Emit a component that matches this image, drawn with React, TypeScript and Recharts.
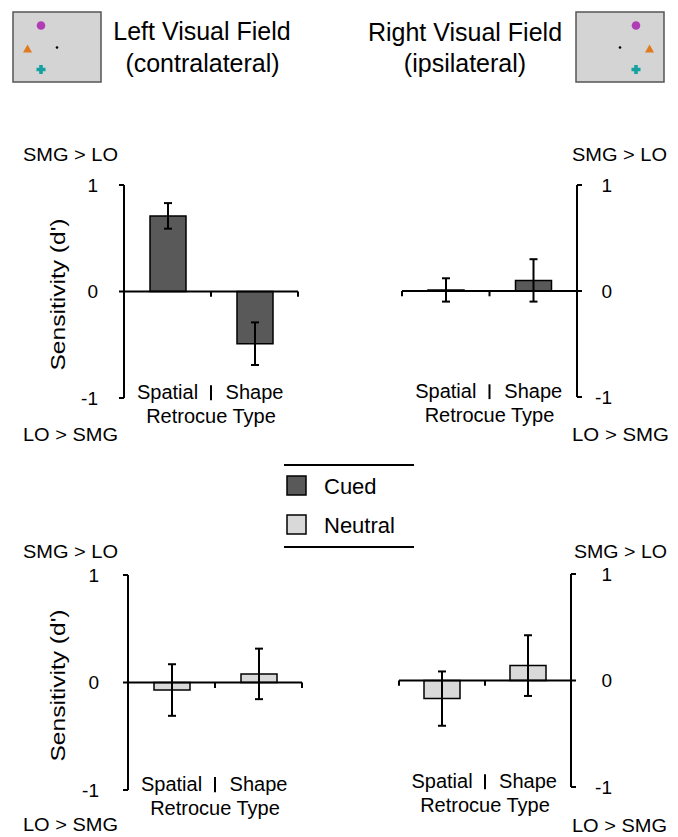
import { BarChart, Bar, XAxis, YAxis, ErrorBar, ReferenceLine } from 'recharts';

const FONT = '"Liberation Sans", Arial, sans-serif';

const CATEGORIES = ['Spatial', 'Shape'];
const Y_TICKS = [-1, 0, 1];

// Cued retrocue, d' difference (SMG - LO)
const CUED_LEFT = [0.71, -0.49];
const CUED_LEFT_ERR = [0.12, 0.2];
const CUED_RIGHT = [0.01, 0.1];
const CUED_RIGHT_ERR = [0.11, 0.2];

// Neutral retrocue
const NEUTRAL_LEFT = [-0.07, 0.08];
const NEUTRAL_LEFT_ERR = [0.24, 0.235];
const NEUTRAL_RIGHT = [-0.17, 0.14];
const NEUTRAL_RIGHT_ERR = [0.255, 0.285];

const CUED_COLOR = '#595959';
const NEUTRAL_COLOR = '#d9d9d9';

type PanelProps = {
  values: number[];
  errors: number[];
  fill: string;
  side: 'left' | 'right';
  left: number;
  top: number;
  width: number;
  height: number;
  plotLeft: number;
  plotRight: number;
  plotTop: number;
  plotBottom: number;
  tickShift: number;
};

const YTick = (props: any) => {
  const { x, y, payload, shift } = props;
  return (
    <text x={x + shift} y={y} textAnchor="end" dominantBaseline="central" fontSize={19} fontFamily={FONT} fill="#000" stroke="none">
      {payload.value}
    </text>
  );
};

const CatTick = (props: any) => {
  const { x, y, payload } = props;
  return (
    <text x={x} y={y - 6} textAnchor="middle" dominantBaseline="central" fontSize={20} fontFamily={FONT} fill="#000" stroke="none">
      {payload.value}
    </text>
  );
};

const Panel = (p: PanelProps) => {
  const data = CATEGORIES.map((name, i) => ({ name, value: p.values[i], err: p.errors[i], pos: i + 0.5 }));
  const isLeft = p.side === 'left';
  const margin = isLeft
    ? { top: p.plotTop, left: 0, right: p.width - p.plotRight, bottom: 0 }
    : { top: p.plotTop, left: p.plotLeft, right: 0, bottom: 0 };
  const yWidth = isLeft ? p.plotLeft : p.width - p.plotRight;

  return (
    <div style={{ position: 'absolute', left: p.left, top: p.top }}>
      <BarChart width={p.width} height={p.height} data={data} margin={margin} barSize={36}>
        <XAxis
          dataKey="name"
          axisLine={false}
          tickLine={false}
          tickSize={0}
          tickMargin={0}
          height={p.height - p.plotBottom}
          tick={<CatTick />}
          interval={0}
          label={{
            content: (lp: any) => {
              const vb = lp.viewBox;
              return (
                <text x={vb.x + vb.width / 2} y={vb.y + 18} textAnchor="middle" dominantBaseline="central" fontSize={20} fontFamily={FONT} fill="#000">
                  Retrocue Type
                </text>
              );
            },
          }}
        />
        <XAxis xAxisId="n" type="number" dataKey="pos" domain={[0, 2]} allowDataOverflow hide />
        <YAxis
          orientation={p.side}
          width={yWidth}
          domain={[-1, 1]}
          ticks={Y_TICKS}
          interval={0}
          allowDataOverflow
          tickSize={5}
          tickMargin={2}
          stroke="#000"
          strokeWidth={2}
          axisLine={{ stroke: '#000', strokeWidth: 2 }}
          tickLine={{ stroke: '#000', strokeWidth: 2 }}
          tick={(tp: any) => <YTick {...tp} shift={p.tickShift} />}
          label={
            isLeft
              ? {
                  content: (lp: any) => {
                    const vb = lp.viewBox;
                    const cy = vb.y + vb.height / 2 + 3;
                    return (
                      <text
                        x={57}
                        y={cy}
                        transform={`rotate(-90 57 ${cy})`}
                        textAnchor="middle"
                        dominantBaseline="central"
                        fontSize={21}
                        fontFamily={FONT}
                        fill="#000"
                        stroke="none"
                        textLength={152}
                        lengthAdjust="spacingAndGlyphs"
                      >
                        Sensitivity (d')
                      </text>
                    );
                  },
                }
              : undefined
          }
        />
        <Bar dataKey="value" fill={p.fill} stroke="#000" strokeWidth={1.5} isAnimationActive={false}>
          <ErrorBar dataKey="err" width={4} stroke="#000" strokeWidth={2} direction="y" isAnimationActive={false} />
        </Bar>
        <ReferenceLine y={0} stroke="#000" strokeWidth={2} />
        {[0, 1, 2].map((v) => (
          <ReferenceLine
            key={`t${v}`}
            xAxisId="n"
            segment={[{ x: v, y: 0 }, { x: v, y: -0.05 }]}
            stroke="#000"
            strokeWidth={2}
            ifOverflow="visible"
          />
        ))}
        <ReferenceLine
          xAxisId="n"
          segment={[{ x: 1, y: -0.88 }, { x: 1, y: -1.02 }]}
          stroke="#000"
          strokeWidth={2}
          ifOverflow="visible"
        />
      </BarChart>
    </div>
  );
};

const ScreenIcon = ({ x, mirror }: { x: number; mirror: boolean }) => {
  const s = mirror ? -1 : 1;
  const cx = x + (mirror ? 88 : 0);
  return (
    <g>
      <rect x={x} y={12} width={88} height={70} fill="#d4d4d4" stroke="#555" strokeWidth={1.5} />
      <circle cx={cx + s * 28} cy={25.5} r={4.3} fill="#b03db6" />
      <circle cx={cx + s * 44} cy={47.5} r={1.3} fill="#000" />
      <polygon
        points={`${cx + s * 14.5 - 4.5},52.5 ${cx + s * 14.5 + 4.5},52.5 ${cx + s * 14.5},44.5`}
        fill="#e07a1c"
      />
      <path
        d={`M${cx + s * 28 - 4.5} ${69.5 - 1.8}h9v3.6h-9z M${cx + s * 28 - 1.8} ${69.5 - 4.5}h3.6v9h-3.6z`}
        fill="#17a0a0"
      />
    </g>
  );
};

const Overlay = () => (
  <svg width={678} height={837} style={{ position: 'absolute', left: 0, top: 0, pointerEvents: 'none' }}>
    <ScreenIcon x={13} mirror={false} />
    <ScreenIcon x={576} mirror={true} />
    <g fontFamily={FONT} fontSize={25} fill="#000" textAnchor="middle">
      <text x={202} y={40}>Left Visual Field</text>
      <text x={202.5} y={72}>(contralateral)</text>
      <text x={465} y={41}>Right Visual Field</text>
      <text x={465} y={72}>(ipsilateral)</text>
    </g>
    <g fontFamily={FONT} fontSize={17.5} fill="#000" dominantBaseline="central">
      <text x={23} y={155} textLength={95} lengthAdjust="spacingAndGlyphs">SMG &gt; LO</text>
      <text x={23} y={435} textLength={95} lengthAdjust="spacingAndGlyphs">LO &gt; SMG</text>
      <text x={572} y={155} textLength={95} lengthAdjust="spacingAndGlyphs">SMG &gt; LO</text>
      <text x={572} y={435} textLength={97} lengthAdjust="spacingAndGlyphs">LO &gt; SMG</text>
      <text x={23} y={552} textLength={95} lengthAdjust="spacingAndGlyphs">SMG &gt; LO</text>
      <text x={23} y={825} textLength={95} lengthAdjust="spacingAndGlyphs">LO &gt; SMG</text>
      <text x={574} y={552} textLength={93} lengthAdjust="spacingAndGlyphs">SMG &gt; LO</text>
      <text x={572} y={826} textLength={95} lengthAdjust="spacingAndGlyphs">LO &gt; SMG</text>
    </g>
    {/* legend */}
    <line x1={284} x2={414} y1={465} y2={465} stroke="#000" strokeWidth={2} />
    <line x1={284} x2={414} y1={547} y2={547} stroke="#000" strokeWidth={2} />
    <rect x={287} y={476} width={19} height={19} fill={CUED_COLOR} stroke="#000" strokeWidth={1.5} />
    <rect x={287} y={515} width={19} height={19} fill={NEUTRAL_COLOR} stroke="#000" strokeWidth={1.5} />
    <g fontFamily={FONT} fontSize={22} fill="#000" dominantBaseline="central">
      <text x={324} y={486}>Cued</text>
      <text x={324} y={525}>Neutral</text>
    </g>
  </svg>
);

export default function App() {
  return (
    <div style={{ position: 'absolute', left: 0, top: 0, width: 678, height: 837, background: '#fff' }}>
      <Panel
        values={CUED_LEFT}
        errors={CUED_LEFT_ERR}
        fill={CUED_COLOR}
        side="left"
        left={0}
        top={140}
        width={339}
        height={300}
        plotLeft={124}
        plotRight={298}
        plotTop={45}
        plotBottom={258}
        tickShift={-19}
      />
      <Panel
        values={CUED_RIGHT}
        errors={CUED_RIGHT_ERR}
        fill={CUED_COLOR}
        side="right"
        left={339}
        top={140}
        width={339}
        height={300}
        plotLeft={63}
        plotRight={238}
        plotTop={45}
        plotBottom={257}
        tickShift={28}
      />
      <Panel
        values={NEUTRAL_LEFT}
        errors={NEUTRAL_LEFT_ERR}
        fill={NEUTRAL_COLOR}
        side="left"
        left={0}
        top={530}
        width={339}
        height={300}
        plotLeft={128}
        plotRight={302}
        plotTop={45}
        plotBottom={260}
        tickShift={-22}
      />
      <Panel
        values={NEUTRAL_RIGHT}
        errors={NEUTRAL_RIGHT_ERR}
        fill={NEUTRAL_COLOR}
        side="right"
        left={339}
        top={530}
        width={339}
        height={300}
        plotLeft={60}
        plotRight={232}
        plotTop={44}
        plotBottom={257}
        tickShift={34}
      />
      <Overlay />
    </div>
  );
}
